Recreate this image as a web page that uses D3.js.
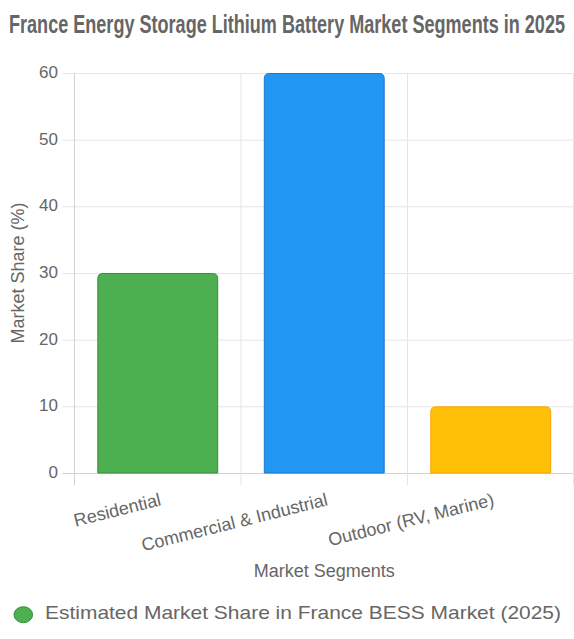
<!DOCTYPE html>
<html>
<head>
  <meta charset='utf-8'>
  <script src="https://d3js.org/d3.v7.min.js"></script>
  <style>
    body {
      margin: 0;
      background: #fff;
    }
    text {
      font-family: 'Liberation Sans', Arial, sans-serif;
      fill: #666;
    }
  </style>
</head>
<body>
  <script type='text/javascript'>
    // Chart data
    var segments = ['Residential', 'Commercial & Industrial', 'Outdoor (RV, Marine)'];
    var shares = [30, 60, 10];
    var fillColors = ['#4CAF50', '#2196F3', '#FFC107'];
    var borderColors = ['#388E3C', '#1976D2', '#FFA000'];
    var yTicks = [0, 10, 20, 30, 40, 50, 60];

    var titleText = 'France Energy Storage Lithium Battery Market Segments in 2025';
    var xTitle = 'Market Segments';
    var yTitle = 'Market Share (%)';
    var legendText = 'Estimated Market Share in France BESS Market (2025)';

    var width = 574,
      height = 639;
    var plot = {left: 74.5, right: 574, top: 73, bottom: 473};

    var svg = d3.select('body')
      .append('svg')
      .attr('width', width)
      .attr('height', height);

    // Scales
    var x = d3.scaleBand()
      .domain(segments)
      .range([plot.left, plot.right]);
    var y = d3.scaleLinear()
      .domain([0, 60])
      .range([plot.bottom, plot.top]);

    // Title (narrow bold, squeezed to the width it has in the original)
    svg.append('text')
      .attr('x', 287)
      .attr('y', 32.5)
      .attr('text-anchor', 'middle')
      .attr('textLength', 556)
      .attr('lengthAdjust', 'spacingAndGlyphs')
      .style('font-family', "'Liberation Sans Narrow', 'Arial Narrow', 'Liberation Sans', sans-serif")
      .style('font-weight', 'bold')
      .style('font-size', '26px')
      .text(titleText);

    // Horizontal grid lines + y ticks
    svg.append('g')
      .selectAll('line')
      .data(yTicks)
      .enter()
      .append('line')
      .attr('x1', plot.left - 12)
      .attr('x2', plot.right)
      .attr('y1', function(d) { return y(d) + 0.5; })
      .attr('y2', function(d) { return y(d) + 0.5; })
      .attr('stroke', function(d) { return d === 0 ? '#d2d2d2' : '#e5e5e5'; })
      .attr('stroke-width', 1);

    svg.append('g')
      .selectAll('text')
      .data(yTicks)
      .enter()
      .append('text')
      .attr('x', 58)
      .attr('y', function(d) { return y(d); })
      .attr('dy', '0.3em')
      .attr('text-anchor', 'end')
      .style('font-size', '17px')
      .text(function(d) { return d; });

    // Vertical grid lines (category boundaries)
    var bounds = segments.map(function(d) { return x(d); }).concat([plot.right - 0.5]);
    svg.append('g')
      .selectAll('line')
      .data(bounds)
      .enter()
      .append('line')
      .attr('x1', function(d) { return d; })
      .attr('x2', function(d) { return d; })
      .attr('y1', plot.top)
      .attr('y2', plot.bottom + 12)
      .attr('stroke', function(d, i) { return i === 0 ? '#d2d2d2' : '#e5e5e5'; })
      .attr('stroke-width', 1);

    // Bars, rounded on top
    var barPad = x.bandwidth() * 0.14,
      barW = x.bandwidth() * 0.72,
      r = 5;
    svg.append('g')
      .selectAll('path')
      .data(shares)
      .enter()
      .append('path')
      .attr('d', function(d, i) {
        var x0 = x(segments[i]) + barPad,
          x1 = x0 + barW,
          y0 = y(d) + 0.5,
          y1 = y(0);
        return 'M' + x0 + ',' + y1 +
          'V' + (y0 + r) +
          'Q' + x0 + ',' + y0 + ' ' + (x0 + r) + ',' + y0 +
          'H' + (x1 - r) +
          'Q' + x1 + ',' + y0 + ' ' + x1 + ',' + (y0 + r) +
          'V' + y1 + 'Z';
      })
      .attr('fill', function(d, i) { return fillColors[i]; })
      .attr('stroke', function(d, i) { return borderColors[i]; })
      .attr('stroke-width', 1);

    // Rotated category labels
    svg.append('g')
      .selectAll('text')
      .data(segments)
      .enter()
      .append('text')
      .attr('transform', function(d) {
        return 'translate(' + (x(d) + x.bandwidth() / 2 + 1) + ',' + 492 + ') rotate(-14)';
      })
      .attr('dy', '0.75em')
      .attr('text-anchor', 'end')
      .style('font-size', '18px')
      .text(function(d) { return d; });

    // Axis titles
    svg.append('text')
      .attr('x', (plot.left + plot.right) / 2)
      .attr('y', 577)
      .attr('text-anchor', 'middle')
      .style('font-size', '18px')
      .text(xTitle);

    svg.append('text')
      .attr('transform', 'translate(24,273) rotate(-90)')
      .attr('text-anchor', 'middle')
      .style('font-size', '18px')
      .text(yTitle);

    // Legend
    svg.append('ellipse')
      .attr('cx', 23.3)
      .attr('cy', 614.7)
      .attr('rx', 9.3)
      .attr('ry', 8)
      .attr('fill', fillColors[0])
      .attr('stroke', borderColors[0])
      .attr('stroke-width', 1);

    svg.append('text')
      .attr('x', 45)
      .attr('y', 618.5)
      .attr('textLength', 516)
      .attr('lengthAdjust', 'spacingAndGlyphs')
      .style('font-size', '19px')
      .text(legendText);
  </script>
</body>
</html>
